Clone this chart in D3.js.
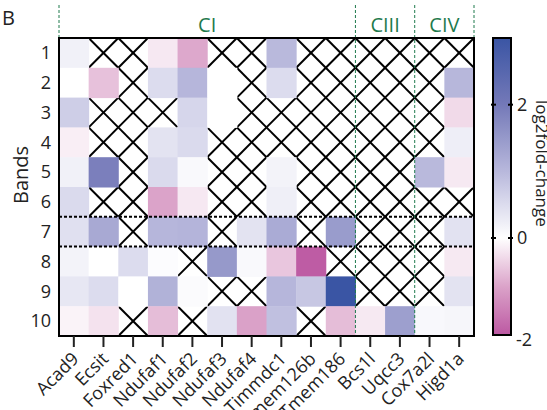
<!DOCTYPE html>
<html>
<head>
<meta charset="utf-8">
<script src="https://cdn.jsdelivr.net/npm/d3@7"></script>
<style>
    body { margin: 0; background: #fff; }
    svg { display: block; font-family: 'Open Sans', sans-serif; }
</style>
</head>
<body>
<div id="chart"></div>
<script>
// Assembly factors (columns) and native gel bands (rows)
const genes = ['Acad9', 'Ecsit', 'Foxred1', 'Ndufaf1', 'Ndufaf2', 'Ndufaf3', 'Ndufaf4',
    'Timmdc1', 'Tmem126b', 'Tmem186', 'Bcs1l', 'Uqcc3', 'Cox7a2l', 'Higd1a'];
const bands = ['1', '2', '3', '4', '5', '6', '7', '8', '9', '10'];

// Complex grouping shown above the heatmap
const complexes = [
    { name: 'CI', first: 'Acad9', last: 'Tmem186' },
    { name: 'CIII', first: 'Bcs1l', last: 'Uqcc3' },
    { name: 'CIV', first: 'Cox7a2l', last: 'Higd1a' }
];

// log2 fold change per band (null = not detected)
const foldChange = [
    [0.2, null, null, -0.25, -0.95, null, null, 0.99, null, null, null, null, null, null],
    [0, -0.67, null, 0.5, 1.03, 0, null, 0.5, null, null, null, null, null, 1.02],
    [0.69, null, null, null, 0.58, 0, null, null, null, null, null, null, null, -0.4],
    [-0.18, null, null, 0.39, 0.52, null, null, null, null, null, null, null, null, 0.24],
    [0.2, 1.9, null, 0.52, 0.08, null, null, 0.17, null, null, null, null, 0.99, -0.24],
    [0.52, null, null, -1.0, -0.25, null, null, 0.22, null, null, null, null, null, null],
    [0.44, 1.24, null, 1.03, 1.06, null, 0.39, 1.2, null, 1.45, null, null, null, 0.41],
    [0.17, 0, 0.5, 0.04, null, 1.5, 0.08, -0.62, -1.95, null, null, null, null, -0.24],
    [0.34, 0.5, 0, 1.1, 0.06, null, null, 1.03, 0.79, 3.0, null, null, null, 0.4],
    [-0.13, -0.31, null, -0.72, null, 0.41, -1.03, 0.89, null, -0.72, -0.24, 1.4, 0.1, 0.13]
];

const highlightBand = '7';
const colorTicks = [2, 0, -2];
const colorDomain = [-2, -1, 0, 1, 2, 3];
const colorRange = ['#bc58a2', '#dba3c9', '#ffffff', '#b8b8dc', '#7479b8', '#3a55a4'];

const width = 547, height = 410;
const green = '#1f7a4d';

const svg = d3.select('#chart').append('svg')
    .attr('width', width)
    .attr('height', height);

const x = d3.scaleBand().domain(genes).range([59, 474]);
const y = d3.scaleBand().domain(bands).range([38, 336]);
const color = d3.scaleLinear().domain(colorDomain).range(colorRange);

// Flatten matrix into cells
const cells = [];
foldChange.forEach((row, i) => {
    row.forEach((v, j) => cells.push({ band: bands[i], gene: genes[j], value: v }));
});

// Missing cells: crossed
const missing = svg.append('g').selectAll('g')
    .data(cells.filter(d => d.value === null))
    .join('g')
    .attr('stroke', '#000')
    .attr('stroke-width', 2);

missing.append('line')
    .attr('x1', d => x(d.gene)).attr('y1', d => y(d.band))
    .attr('x2', d => x(d.gene) + x.bandwidth()).attr('y2', d => y(d.band) + y.bandwidth());
missing.append('line')
    .attr('x1', d => x(d.gene) + x.bandwidth()).attr('y1', d => y(d.band))
    .attr('x2', d => x(d.gene)).attr('y2', d => y(d.band) + y.bandwidth());

// Filled cells
svg.append('g').selectAll('rect')
    .data(cells.filter(d => d.value !== null))
    .join('rect')
    .attr('x', d => x(d.gene))
    .attr('y', d => y(d.band))
    .attr('width', x.bandwidth() + 0.5)
    .attr('height', y.bandwidth() + 0.5)
    .attr('fill', d => color(d.value));

// Dotted lines around highlighted band
svg.append('g').selectAll('line')
    .data([y(highlightBand), y(highlightBand) + y.bandwidth()])
    .join('line')
    .attr('x1', 59).attr('x2', 474)
    .attr('y1', d => d).attr('y2', d => d)
    .attr('stroke', '#000')
    .attr('stroke-width', 2)
    .attr('stroke-dasharray', '3,2');

// Complex separators and labels
const bounds = [];
complexes.forEach((c, i) => {
    bounds.push({ x: x(c.first), inner: i > 0 });
});
bounds.push({ x: x(complexes[complexes.length - 1].last) + x.bandwidth(), inner: false });

svg.append('g').selectAll('line')
    .data(bounds)
    .join('line')
    .attr('x1', d => d.x).attr('x2', d => d.x)
    .attr('y1', 5)
    .attr('y2', d => d.inner ? 336 : 38)
    .attr('stroke', green)
    .attr('stroke-width', 1)
    .attr('stroke-dasharray', '3,2');

svg.append('g').selectAll('text')
    .data(complexes)
    .join('text')
    .attr('x', d => (x(d.first) + x(d.last) + x.bandwidth()) / 2)
    .attr('y', 32)
    .attr('text-anchor', 'middle')
    .attr('fill', green)
    .style('font-size', '20px')
    .text(d => d.name);

// Frame
svg.append('rect')
    .attr('x', 59).attr('y', 38)
    .attr('width', 415).attr('height', 298)
    .attr('fill', 'none')
    .attr('stroke', '#000')
    .attr('stroke-width', 2);

// X axis
const xAxis = svg.append('g');
xAxis.selectAll('line')
    .data(genes)
    .join('line')
    .attr('x1', d => x(d) + x.bandwidth() / 2)
    .attr('x2', d => x(d) + x.bandwidth() / 2)
    .attr('y1', 336).attr('y2', 347)
    .attr('stroke', '#222')
    .attr('stroke-width', 2);
xAxis.selectAll('text')
    .data(genes)
    .join('text')
    .attr('transform', d => `translate(${x(d) + x.bandwidth() / 2 + 6},${360}) rotate(-45)`)
    .attr('text-anchor', 'end')
    .attr('fill', '#222')
    .style('font-size', '18px')
    .text(d => d);

// Y axis
svg.append('g').selectAll('text')
    .data(bands)
    .join('text')
    .attr('x', 51)
    .attr('y', d => y(d) + y.bandwidth() / 2)
    .attr('dy', '0.35em')
    .attr('text-anchor', 'end')
    .attr('fill', '#222')
    .style('font-size', '18px')
    .text(d => d);

svg.append('text')
    .attr('transform', 'translate(28,175) rotate(-90)')
    .attr('text-anchor', 'middle')
    .attr('fill', '#222')
    .style('font-size', '20px')
    .text('Bands');

svg.append('text')
    .attr('x', 2).attr('y', 25)
    .attr('fill', '#222')
    .style('font-size', '20px')
    .text('B');

// Colour bar
const cb = d3.scaleLinear().domain([-2, 0, 3]).range([335, 238, 38]);
const grad = svg.append('defs').append('linearGradient')
    .attr('id', 'cbar')
    .attr('x1', 0).attr('y1', 1).attr('x2', 0).attr('y2', 0);
d3.range(-2, 3.01, 0.25).forEach(v => {
    grad.append('stop')
        .attr('offset', (335 - cb(v)) / (335 - 38))
        .attr('stop-color', color(v));
});
svg.append('rect')
    .attr('x', 493).attr('y', 38)
    .attr('width', 18).attr('height', 297)
    .attr('fill', 'url(#cbar)')
    .attr('stroke', '#000')
    .attr('stroke-width', 2);

const cbTicks = svg.append('g');
cbTicks.selectAll('line.l')
    .data(colorTicks.filter(v => v > -2))
    .join('line')
    .attr('class', 'l')
    .attr('x1', 491).attr('x2', 496)
    .attr('y1', d => cb(d)).attr('y2', d => cb(d))
    .attr('stroke', '#000').attr('stroke-width', 2);
cbTicks.selectAll('line.r')
    .data(colorTicks.filter(v => v > -2))
    .join('line')
    .attr('class', 'r')
    .attr('x1', 508).attr('x2', 513)
    .attr('y1', d => cb(d)).attr('y2', d => cb(d))
    .attr('stroke', '#000').attr('stroke-width', 2);
cbTicks.selectAll('text')
    .data(colorTicks)
    .join('text')
    .attr('x', d => d < 0 ? 516 : 517)
    .attr('y', d => cb(d) + (d === -2 ? 5 : 0))
    .attr('dy', '0.35em')
    .attr('fill', '#222')
    .style('font-size', '18px')
    .text(d => d);

svg.append('text')
    .attr('transform', 'translate(536,100) rotate(90)')
    .attr('fill', '#222')
    .style('font-size', '17px')
    .text('log2fold-change');
</script>
</body>
</html>
